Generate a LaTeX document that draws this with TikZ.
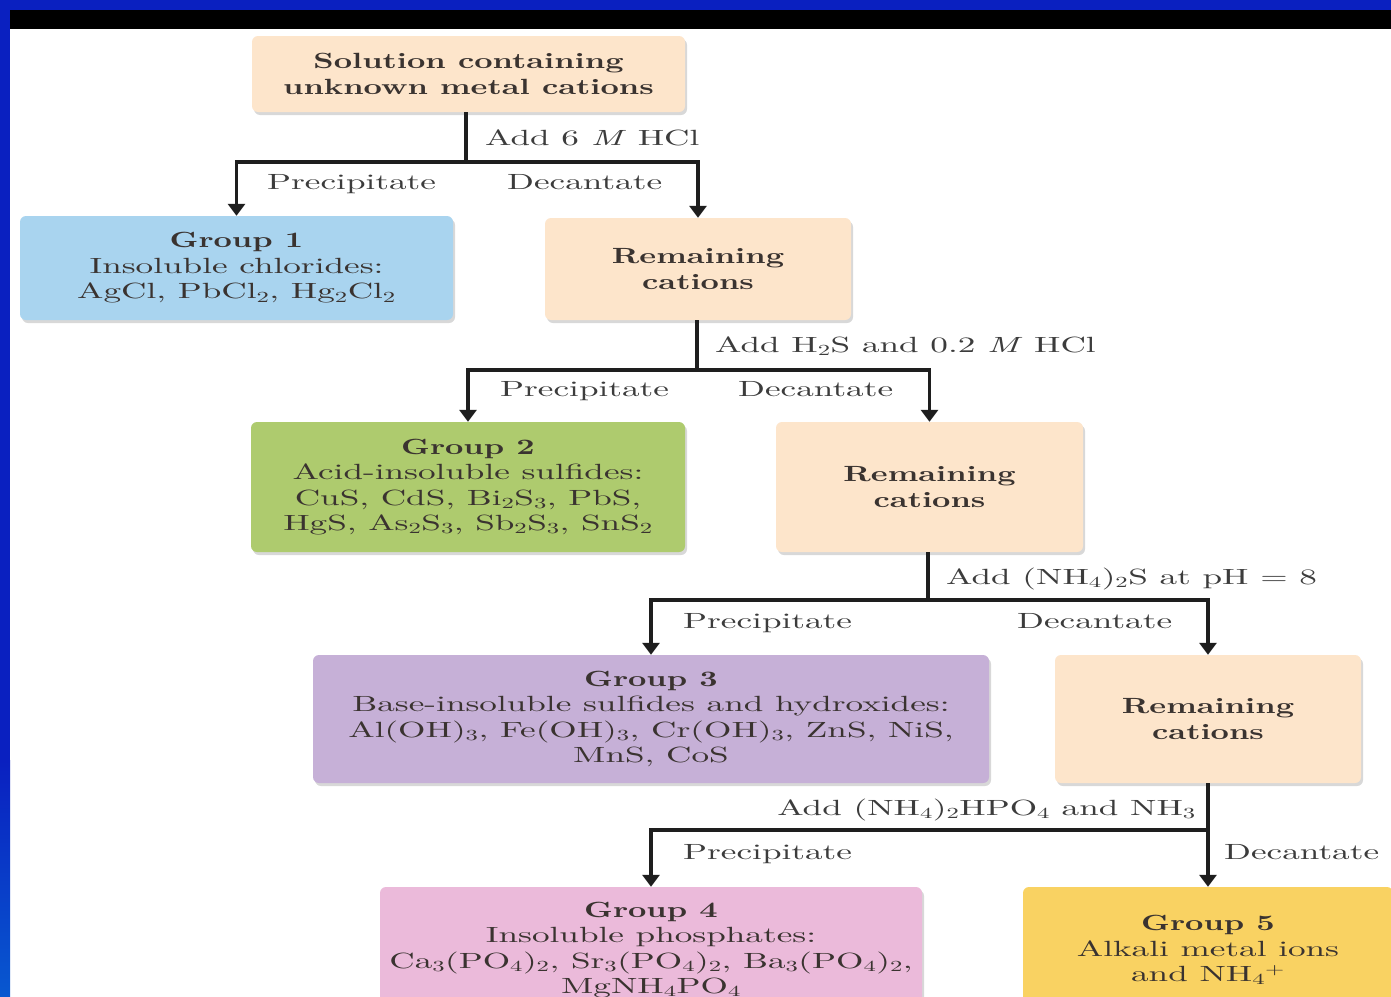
\documentclass[tikz,border=0pt]{standalone}
\usepackage{fontspec}
\usetikzlibrary{arrows.meta,shadows}
\newfontfamily\rmstretch{lmroman10-regular.otf}[BoldFont=lmroman10-bold.otf,ItalicFont=lmroman10-italic.otf,FakeStretch=1.6]
\newfontfamily\bfstretch{lmroman10-bold.otf}[FakeStretch=1.45]
\newcommand\rfont{\rmstretch\fontsize{22}{25.5}\selectfont}
\newcommand\bfont{\bfstretch\fontsize{22}{25.5}\selectfont}
\newcommand\chsub[1]{\textsubscript{#1}}
\definecolor{frameblue}{HTML}{0A20C0}
\definecolor{peach}{HTML}{FDE5CB}
\definecolor{g1blue}{HTML}{A9D4EF}
\definecolor{g2green}{HTML}{AECB6E}
\definecolor{g3purple}{HTML}{C6B0D7}
\definecolor{g4pink}{HTML}{EBBADA}
\definecolor{g5yellow}{HTML}{F9D262}
\definecolor{boxtxt}{HTML}{3A3330}
\definecolor{lblc}{HTML}{3C3C3C}
\definecolor{linec}{HTML}{1E1E1E}
\tikzset{
  box/.style={rounded corners=6pt, align=center, inner sep=0pt, text=boxtxt, font=\rfont,
    drop shadow={opacity=0.25, shadow xshift=2pt, shadow yshift=-3pt, fill=black!60}},
  conn/.style={line width=3.6pt, draw=linec},
  arr/.style={conn, -{Triangle[width=17pt,length=12pt]}},
  lbl/.style={font=\rfont, text=lblc, inner sep=0pt, anchor=base west},
}
\begin{document}
\begin{tikzpicture}[x=1pt,y=-1pt]
\useasboundingbox (0,0) rectangle (1391,996);
% frame
\fill[white] (0,0) rectangle (1391,996);
\fill[frameblue] (0,0) rectangle (1391,10);
\fill[frameblue] (0,0) rectangle (10,996);
\shade[top color=frameblue, bottom color=frameblue!75!cyan] (0,760) rectangle (10,996);
\fill[black] (10,10) rectangle (1391,29);
% boxes
\node[box, fill=peach, minimum width=433pt, minimum height=76pt] (s0) at (468.5,74)
  {\bfont Solution containing\\\bfont unknown metal cations};
\node[box, fill=g1blue, minimum width=433pt, minimum height=104pt] (g1) at (236.5,268)
  {{\bfont Group 1}\\Insoluble chlorides:\\AgCl, PbCl\chsub{2}, Hg\chsub{2}Cl\chsub{2}};
\node[box, fill=peach, minimum width=306pt, minimum height=102pt] (r1) at (698,269)
  {\bfont Remaining\\\bfont cations};
\node[box, fill=g2green, minimum width=434pt, minimum height=130pt] (g2) at (468,487)
  {{\bfont Group 2}\\Acid-insoluble sulfides:\\CuS, CdS, Bi\chsub{2}S\chsub{3}, PbS,\\HgS, As\chsub{2}S\chsub{3}, Sb\chsub{2}S\chsub{3}, SnS\chsub{2}};
\node[box, fill=peach, minimum width=307pt, minimum height=130pt] (r2) at (929.5,487)
  {\bfont Remaining\\\bfont cations};
\node[box, fill=g3purple, minimum width=676pt, minimum height=128pt] (g3) at (651,719)
  {{\bfont Group 3}\\Base-insoluble sulfides and hydroxides:\\Al(OH)\chsub{3}, Fe(OH)\chsub{3}, Cr(OH)\chsub{3}, ZnS, NiS,\\MnS, CoS};
\node[box, fill=peach, minimum width=306pt, minimum height=128pt] (r3) at (1208,719)
  {\bfont Remaining\\\bfont cations};
\node[box, fill=g4pink, minimum width=542pt, minimum height=126pt] (g4) at (651,950)
  {{\bfont Group 4}\\Insoluble phosphates:\\Ca\chsub{3}(PO\chsub{4})\chsub{2}, Sr\chsub{3}(PO\chsub{4})\chsub{2}, Ba\chsub{3}(PO\chsub{4})\chsub{2},\\MgNH\chsub{4}PO\chsub{4}};
\node[box, fill=g5yellow, minimum width=370pt, minimum height=126pt] (g5) at (1208,950)
  {{\bfont Group 5}\\Alkali metal ions\\and NH\chsub{4}\textsuperscript{+}};
% junctions
\coordinate (j1) at (466,162);
\coordinate (j2) at (697,370);
\coordinate (j3) at (928,600);
\coordinate (j4) at (1208,830);
% connectors
\draw[conn] (s0.south -| j1) -- (j1);
\draw[arr] (j1) -| (g1.north);
\draw[arr] (j1) -| (r1.north);
\draw[conn] (r1.south -| j2) -- (j2);
\draw[arr] (j2) -| (g2.north);
\draw[arr] (j2) -| (r2.north);
\draw[conn] (r2.south -| j3) -- (j3);
\draw[arr] (j3) -| (g3.north);
\draw[arr] (j3) -| (r3.north);
\draw[arr] (r3.south) -- (r3.south |- g5.north);
\draw[arr] (j4) -| (g4.north);
% labels
\node[lbl] (l1) at (485,145) {Add 6 \textit{M} HCl};
\node[lbl] (p1) at (267,189) {Precipitate};
\node[lbl] (d1) at (507,189) {Decantate};
\node[lbl] (l2) at (715,352) {Add H\chsub{2}S and 0.2 \textit{M} HCl};
\node[lbl] (p2) at (500,396) {Precipitate};
\node[lbl] (d2) at (738,396) {Decantate};
\node[lbl] (l3) at (946,584) {Add (NH\chsub{4})\chsub{2}S at pH = 8};
\node[lbl] (p3) at (683,628) {Precipitate};
\node[lbl] (d3) at (1017,628) {Decantate};
\node[lbl, anchor=base east] (l4) at (1196,815) {Add (NH\chsub{4})\chsub{2}HPO\chsub{4} and NH\chsub{3}};
\node[lbl] (p4) at (683,859) {Precipitate};
\node[lbl] (d4) at (1224,859) {Decantate};
\end{tikzpicture}
\end{document}
